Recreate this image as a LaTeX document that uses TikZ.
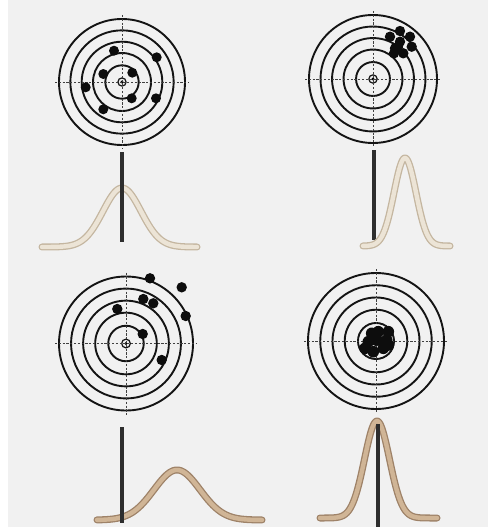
\documentclass[tikz,border=0pt]{standalone}
\definecolor{bg}{HTML}{F1F1F1}
\definecolor{lightedge}{HTML}{C4B6A0}
\definecolor{lightfill}{HTML}{ECE4D6}
\definecolor{tanedge}{HTML}{9E8268}
\definecolor{tanfill}{HTML}{D0B596}
\newcommand\drawtarget[3]{%
  \foreach \f in {1,0.82,0.64,0.46,0.265}{\draw[ring] (#1,#2) circle[radius={#3*\f}];}
  \draw[ring,line width=1.2pt] (#1,#2) circle[radius={#3*0.065}];
  \fill (#1,#2) circle[radius=1.6];
  \draw[cross] ({#1-#3-4},#2) -- ({#1+#3+4},#2);
  \draw[cross] (#1,{#2-#3-4}) -- (#1,{#2+#3+4});
}
\newcommand\drawbell[8]{% cx base amp sigma xmin xmax edge fill
  \draw[line width=7pt,draw=#7,line cap=round,line join=round]
    plot[domain={#5-#1}:{#6-#1},samples=120,smooth] ({#1+\x},{#2-#3*exp(-0.5*(\x/#4)^2)});
  \draw[line width=4.4pt,draw=#8,line cap=round,line join=round]
    plot[domain={#5-#1}:{#6-#1},samples=120,smooth] ({#1+\x},{#2-#3*exp(-0.5*(\x/#4)^2)});
}
\begin{document}
\begin{tikzpicture}[x=1pt,y=-1pt,
  ring/.style={line width=1.9pt,draw=black!92},
  cross/.style={line width=1pt,draw=black!75,dash pattern=on 2.2pt off 1.6pt},
  shot/.style={fill=black!95},
  stem/.style={line width=3.2pt,draw=black!82}]
\fill[bg] (0,0) rectangle (488,527);
\fill[white] (0,0) rectangle (8,527);
\useasboundingbox (0,0) rectangle (488,527);

% ---------- top left ----------
\drawtarget{122}{82}{63}
\foreach \p in {(114,50.7),(156.7,57.3),(103.3,74),(132.3,72.7),(85.7,87.3),(131.7,98.3),(156,98.3),(103.3,109.3)}
  \fill[shot] \p circle[radius=5];
\drawbell{122}{247}{59}{19}{42}{197}{lightedge}{lightfill}
\coordinate (tlA) at (122,152); \coordinate (tlB) at (122,242);
\draw[stem] (tlA) -- (tlB);

% ---------- top right ----------
\drawtarget{373}{79}{64}
\foreach \p in {(400,31),(410,36.7),(390,36.7),(400,41.7),(395,48.3),(411.7,46.7),(403.3,53.3),(394,53.3),(398,47)}
  \fill[shot] \p circle[radius=5.2];
\coordinate (trA) at (374,150); \coordinate (trB) at (374,240);
\draw[stem] (trA) -- (trB);
\drawbell{405}{246}{88}{11}{363}{450}{lightedge}{lightfill}

% ---------- bottom left ----------
\drawtarget{126}{343.5}{67}
\foreach \p in {(150,278.3),(181.7,287.3),(143.3,299),(153.3,303.3),(117.3,309),(185.7,316),(142.7,334),(161.7,360)}
  \fill[shot] \p circle[radius=5.2];
\drawbell{177}{520}{50}{23}{97}{262}{tanedge}{tanfill}
\coordinate (blA) at (122,427); \coordinate (blB) at (122,523);
\draw[stem] (blA) -- (blB);

% ---------- bottom right ----------
\drawtarget{376}{341}{68}
\foreach \p in {(371.7,333.3),(378.3,331.7),(388.3,331.7),(368.3,341.7),(386.7,340),(365,348.3),(373.3,351.7),(383.3,348.3),(388.3,345),(377,340)}
  \fill[shot] \p circle[radius=5.8];
\drawbell{377}{518}{97}{12.5}{320}{437}{tanedge}{tanfill}
\coordinate (brA) at (378,424); \coordinate (brB) at (378,527);
\draw[stem] (brA) -- (brB);
\end{tikzpicture}
\end{document}
